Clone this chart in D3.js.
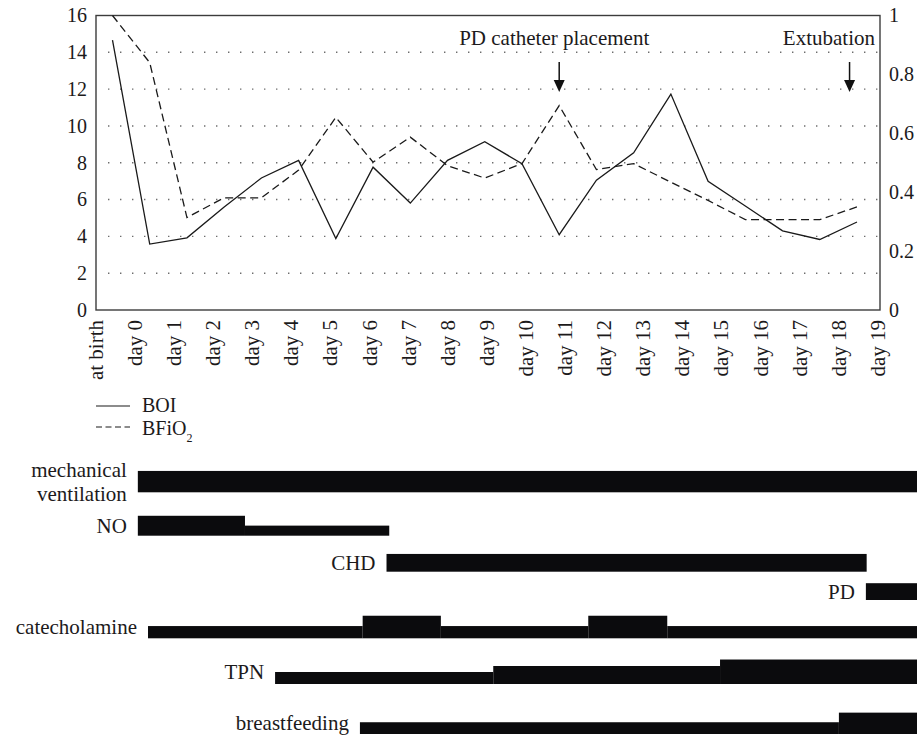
<!DOCTYPE html>
<meta charset="utf-8">
<style>
body { margin: 0; background: #fff; }
svg { display: block; }
</style>
<body>
<svg id="chart" width="917" height="735"></svg>
<script src="https://cdn.jsdelivr.net/npm/d3@7"></script>
<script>

// x categories
var days = ["at birth", "day 0", "day 1", "day 2", "day 3", "day 4", "day 5", "day 6",
  "day 7", "day 8", "day 9", "day 10", "day 11", "day 12", "day 13", "day 14",
  "day 15", "day 16", "day 17", "day 18", "day 19"];

// BOI (left axis) and BFiO2 (right axis)
var boi = [14.66, 3.58, 3.92, 5.6, 7.17, 8.13, 3.88, 7.76, 5.81, 8.13, 9.14,
  7.95, 4.09, 7.05, 8.54, 11.73, 6.99, 5.65, 4.3, 3.83, 4.78];
var bfio2 = [1.0, 0.84, 0.314, 0.381, 0.381, 0.475, 0.654, 0.502, 0.587, 0.49, 0.448,
  0.497, 0.694, 0.477, 0.497, 0.434, 0.372, 0.307, 0.307, 0.307, 0.35];

var leftTicks = [0, 2, 4, 6, 8, 10, 12, 14, 16];
var rightTicks = [0, 0.2, 0.4, 0.6, 0.8, 1];

// annotations, position as point index
var eventLabels = ["PD catheter placement", "Extubation"];
var eventAt = [12, 19.8];

// therapies: [from day, to day, intensity], at birth = -1
var therapyNames = ["mechanical\nventilation", "NO", "CHD", "PD", "catecholamine", "TPN", "breastfeeding"];
var mechVent = [[0.07, 20, 0.89]];
var nitricOxide = [[0.07, 2.81, 0.83], [2.81, 6.5, 0.42]];
var chd = [[6.43, 18.71, 0.74]];
var pd = [[18.69, 20, 0.7]];
var catecholamine = [[0.33, 5.82, 0.51], [5.82, 7.82, 0.94], [7.82, 11.59, 0.51],
  [11.59, 13.61, 0.94], [13.61, 20, 0.51]];
var tpn = [[3.58, 9.16, 0.5], [9.16, 14.96, 0.75], [14.96, 20, 1.02]];
var breastfeeding = [[5.75, 18.0, 0.49], [18.0, 20, 0.89]];
var therapies = [mechVent, nitricOxide, chd, pd, catecholamine, tpn, breastfeeding];

var serif = "'Liberation Serif', 'DejaVu Serif', 'Noto Serif', 'Times New Roman', serif";
var svg = d3.select("#chart").attr("font-family", serif);
var plot = {left: 96, right: 880, top: 15.5, bottom: 310};
var ink = "#1c1a1b";

var xLab = d3.scalePoint().domain(days).range([96, 878]);
var xIdx = d3.scaleLinear().domain([0, days.length - 1]).range([112.5, 857]);
var yL = d3.scaleLinear().domain([0, 16]).range([plot.bottom, plot.top]);
var yR = d3.scaleLinear().domain([0, 1]).range([plot.bottom, plot.top]);
var xDay = d3.scaleLinear().domain([-1, 19]).range([96, 878]);
var hBar = d3.scaleLinear().domain([0, 1]).range([0, 24]);

// dotted grid
svg.append("g").selectAll("line")
    .data(leftTicks.filter(function(d) { return d > 0 && d < 16; }))
  .join("line")
    .attr("x1", 108).attr("x2", plot.right)
    .attr("y1", function(d) { return yL(d); })
    .attr("y2", function(d) { return yL(d); })
    .attr("stroke", "#6d6d6d")
    .attr("stroke-width", 1.4)
    .attr("stroke-dasharray", "1.4,10.6");

// frame
svg.append("rect")
    .attr("x", plot.left).attr("y", plot.top)
    .attr("width", plot.right - plot.left).attr("height", plot.bottom - plot.top)
    .attr("fill", "none").attr("stroke", "#3c3c3c").attr("stroke-width", 1.4);

function styleAxis(g, size) {
  g.attr("font-family", serif).attr("font-size", size);
  g.select(".domain").remove();
  g.selectAll("text").attr("fill", ink);
}

svg.append("g")
    .attr("transform", "translate(" + plot.left + ",0)")
    .call(d3.axisLeft(yL).tickValues(leftTicks).tickSize(0).tickPadding(9))
    .call(styleAxis, 20);

svg.append("g")
    .attr("transform", "translate(" + plot.right + ",0)")
    .call(d3.axisRight(yR).tickValues(rightTicks).tickSize(0).tickPadding(9).tickFormat(d3.format("")))
    .call(styleAxis, 20);

svg.append("g")
    .attr("transform", "translate(0," + plot.bottom + ")")
    .call(d3.axisBottom(xLab).tickSize(0))
    .call(styleAxis, 21)
  .selectAll("text")
    .attr("transform", "rotate(-90)")
    .attr("x", -10).attr("y", 0).attr("dy", "0.3em")
    .style("text-anchor", "end");

// series
var lineL = d3.line().x(function(d, i) { return xIdx(i); }).y(function(d) { return yL(d); });
var lineR = d3.line().x(function(d, i) { return xIdx(i); }).y(function(d) { return yR(d); });

svg.append("path").datum(bfio2)
    .attr("d", lineR).attr("fill", "none")
    .attr("stroke", "#1a1a1a").attr("stroke-width", 1.3)
    .attr("stroke-dasharray", "8,4.5");

svg.append("path").datum(boi)
    .attr("d", lineL).attr("fill", "none")
    .attr("stroke", "#1a1a1a").attr("stroke-width", 1.3);

// event arrows
var ev = svg.append("g").selectAll("g")
    .data(eventLabels)
  .join("g")
    .attr("transform", function(d, i) { return "translate(" + xIdx(eventAt[i]) + ",0)"; });

ev.append("line")
    .attr("y1", 62).attr("y2", 84)
    .attr("stroke", "#111").attr("stroke-width", 1.5);
ev.append("path")
    .attr("d", "M-5.5,80L5.5,80L0,92Z")
    .attr("fill", "#111");
ev.append("text")
    .attr("x", function(d, i) { return i == 0 ? -5 : plot.right - 5 - xIdx(eventAt[i]); })
    .attr("y", 45)
    .attr("font-size", 21)
    .attr("fill", ink)
    .style("text-anchor", function(d, i) { return i == 0 ? "middle" : "end"; })
    .text(function(d) { return d; });

// legend
var legend = svg.append("g").attr("transform", "translate(96,406)");
legend.append("line").attr("x1", 0).attr("x2", 34).attr("y1", 0).attr("y2", 0)
    .attr("stroke", "#1a1a1a").attr("stroke-width", 1.2);
legend.append("line").attr("x1", 0).attr("x2", 34).attr("y1", 21).attr("y2", 21)
    .attr("stroke", "#1a1a1a").attr("stroke-width", 1.2).attr("stroke-dasharray", "6,3.5");
legend.append("text").attr("x", 46).attr("y", 6).attr("font-size", 20).attr("fill", ink).text("BOI");
var bf = legend.append("text").attr("x", 46).attr("y", 28.5).attr("font-size", 20).attr("fill", ink);
bf.append("tspan").text("BFiO");
bf.append("tspan").attr("font-size", 12).attr("dy", 7.5).text("2");

// therapy bars
var rowBottom = [492.3, 535.7, 571.7, 600, 638.3, 684, 734];

var rows = svg.append("g").selectAll("g")
    .data(therapies)
  .join("g")
    .attr("transform", function(d, i) { return "translate(0," + rowBottom[i] + ")"; });

rows.selectAll("rect")
    .data(function(d) { return d; })
  .join("rect")
    .attr("x", function(s) { return xDay(s[0]); })
    .attr("width", function(s) { return xDay(s[1]) - xDay(s[0]); })
    .attr("y", function(s) { return -hBar(s[2]); })
    .attr("height", function(s) { return hBar(s[2]); })
    .attr("fill", "#0b0b0d");

rows.append("text")
    .attr("font-size", 21)
    .attr("fill", ink)
    .style("text-anchor", "end")
    .each(function(d, i) {
      var t = d3.select(this);
      var mid = -hBar(d3.max(d, function(s) { return s[2]; })) / 2;
      var x = xDay(d[0][0]) - 11;
      var parts = therapyNames[i].split("\n");
      if (parts.length == 1) {
        t.attr("x", x).attr("y", mid).attr("dy", "0.33em").text(parts[0]);
      } else {
        t.append("tspan").attr("x", x).attr("y", mid - 5).text(parts[0]);
        t.append("tspan").attr("x", x).attr("y", mid + 19.3).text(parts[1]);
      }
    });

</script>
</body>
</html>
